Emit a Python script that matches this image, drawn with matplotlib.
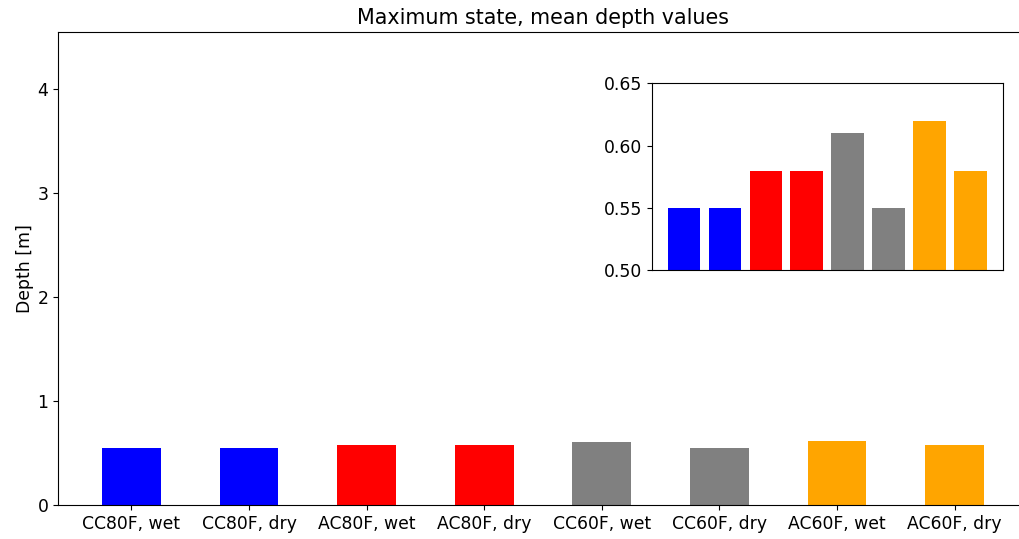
import matplotlib
matplotlib.use("Agg")
import matplotlib.pyplot as plt

# ---------------------------------------------------------------------------
# Data
# ---------------------------------------------------------------------------

labels = ["CC80F, wet", "CC80F, dry", "AC80F, wet", "AC80F, dry",
          "CC60F, wet", "CC60F, dry", "AC60F, wet", "AC60F, dry"]
depths = [0.55, 0.55, 0.58, 0.58, 0.61, 0.55, 0.62, 0.58]
colors = ["blue", "blue", "red", "red", "grey", "grey", "orange", "orange"]

FS = 12.4

# ---------------------------------------------------------------------------
# Figure
# ---------------------------------------------------------------------------

fig = plt.figure(figsize=(10.19, 5.39), dpi=100)
ax = fig.add_axes([0.0569, 0.0631, 0.9520, 0.8775])

x = list(range(len(labels)))
ax.bar(x, depths, width=0.5, color=colors)
ax.set_xticks(x)
ax.set_xticklabels(labels, fontsize=FS)
ax.set_ylim(0, 4.55)
ax.tick_params(axis="y", labelsize=FS)
ax.set_ylabel("Depth [m]", fontsize=FS, labelpad=2)
ax.set_title("Maximum state, mean depth values", fontsize=14.9)

# zoomed inset
axin = fig.add_axes([0.6396, 0.4985, 0.3445, 0.3470])
axin.bar(x, depths, width=0.8, color=colors)
axin.set_ylim(0.5, 0.65)
axin.set_yticks([0.50, 0.55, 0.60, 0.65])
axin.set_yticklabels(["0.50", "0.55", "0.60", "0.65"])
axin.tick_params(axis="y", labelsize=FS)
axin.set_xticks([])

fig.savefig("out.png", dpi=100)
